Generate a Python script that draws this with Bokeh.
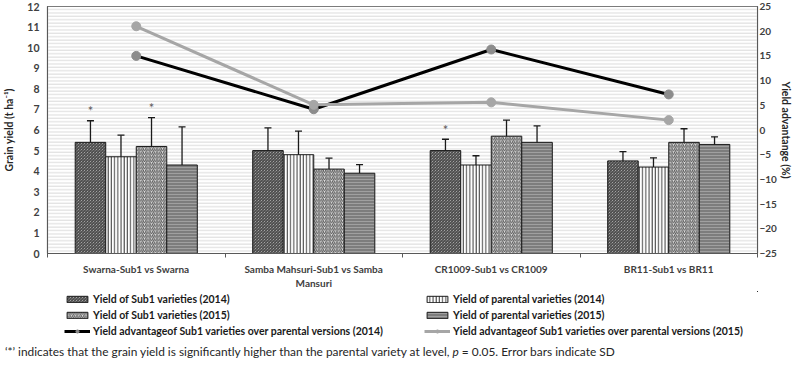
import numpy as np
from bokeh.plotting import figure
from bokeh.layouts import column
from bokeh.models import (Range1d, LinearAxis, FixedTicker, ColumnDataSource, Whisker, TeeHead,
                          Legend, LegendItem, BoxAnnotation, Div)
from bokeh.core.properties import value
from bokeh.embed import file_html
from bokeh.resources import INLINE

categories = ["Swarna-Sub1 vs Swarna", "Samba Mahsuri-Sub1 vs Samba\nMansuri",
              "CR1009-Sub1 vs CR1009", "BR11-Sub1 vs BR11"]
series_names = ["Yield of Sub1 varieties (2014)", "Yield of parental varieties (2014)",
                "Yield of Sub1 varieties (2015)", "Yield of parental varieties (2015)"]
sub1_2014 = [5.4, 5.0, 5.0, 4.5]
sub1_2014_sd = [1.05, 1.1, 0.55, 0.45]
par_2014 = [4.7, 4.8, 4.3, 4.2]
par_2014_sd = [1.05, 1.15, 0.45, 0.45]
sub1_2015 = [5.2, 4.1, 5.7, 5.4]
sub1_2015_sd = [1.4, 0.53, 0.78, 0.66]
par_2015 = [4.3, 3.9, 5.4, 5.3]
par_2015_sd = [1.85, 0.42, 0.8, 0.37]
signif_2014 = [True, False, True, False]
signif_2015 = [True, False, False, False]
adv_2014 = [15.0, 4.2, 16.3, 7.2]
adv_2015 = [21.0, 5.1, 5.6, 2.0]
line_names = ["Yield advantageof Sub1 varieties over parental versions (2014)",
              "Yield advantageof Sub1 varieties over parental versions (2015)"]
left_ticks = list(range(0, 13))
right_ticks = list(range(-25, 30, 5))
footnote_html = ("\u2018*\u2019 indicates that the grain yield is significantly higher than the "
                 "parental variety at level, <i>p</i> = 0.05. Error bars indicate SD")

FONT = "Lato"
TXT = "#404040"

p = figure(width=794, height=291, output_backend="svg", toolbar_location=None,
           x_range=Range1d(0, 4), y_range=Range1d(0, 12),
           min_border_left=43, min_border_right=31, min_border_top=6, min_border_bottom=30)
p.xgrid.visible = False
p.ygrid.visible = False
p.outline_line_color = "#595959"
p.outline_line_width = 1.2

# striped background
p.add_layout(BoxAnnotation(fill_color="white", hatch_pattern="-", hatch_color="#dadada",
                           hatch_scale=3.4, hatch_weight=1, line_color=None, level="underlay"))

centers = np.arange(len(categories)) + 0.5
offsets = [-0.258, -0.086, 0.086, 0.258]
bw = 0.172
styles = [
    dict(fill_color="#e0e0e0", hatch_pattern="\\", hatch_color="#3a3a3a", hatch_scale=3.0, hatch_weight=1.1),
    dict(fill_color="#ffffff", hatch_pattern="|", hatch_color="#3a3a3a", hatch_scale=3.2, hatch_weight=1.0),
    dict(fill_color="#e6e6e6", hatch_pattern="/", hatch_color="#505050", hatch_scale=3.6, hatch_weight=1.0),
    dict(fill_color="#7d7d7d", hatch_pattern="-", hatch_color="#a0a0a0", hatch_scale=3.0, hatch_weight=1.0),
]
vals = [sub1_2014, par_2014, sub1_2015, par_2015]
sds = [sub1_2014_sd, par_2014_sd, sub1_2015_sd, par_2015_sd]
bar_sources = []
for i in range(4):
    x = centers + offsets[i]
    v = np.array(vals[i])
    s = np.array(sds[i])
    src = ColumnDataSource(dict(x=x, top=v, upper=v + s, lower=v - s))
    bar_sources.append(src)
    p.vbar(x="x", top="top", bottom=0, width=bw, source=src, line_color="#1a1a1a",
           line_width=1, **styles[i])
    p.add_layout(Whisker(base="x", upper="upper", lower="lower", source=src,
                         line_color="#1a1a1a", line_width=1.3,
                         upper_head=TeeHead(size=7, line_color="#1a1a1a", line_width=1.3),
                         lower_head=TeeHead(size=7, line_color="#1a1a1a", line_width=1.3)))

# significance asterisks
for i, flags in [(0, signif_2014), (2, signif_2015)]:
    v = np.array(vals[i]) + np.array(sds[i])
    xs = [centers[k] + offsets[i] for k in range(4) if flags[k]]
    ys = [v[k] + 0.08 for k in range(4) if flags[k]]
    p.text(x=xs, y=ys, text=["*"] * len(xs), text_align="center", text_baseline="bottom",
           text_font=value(FONT), text_font_size="13px", text_color="#595959")

# right axis
p.extra_y_ranges = {"adv": Range1d(-25, 25)}
rax = LinearAxis(y_range_name="adv", ticker=FixedTicker(ticks=right_ticks),
                 axis_label="Yield advantange (%)")
p.add_layout(rax, "right")

line_styles = [dict(line_color="#000000", line_width=3), dict(line_color="#a6a6a6", line_width=3)]
mark_styles = [dict(size=9, fill_color="#8c8c8c", line_color="#8c8c8c"),
               dict(size=9, fill_color="#a6a6a6", line_color="#a6a6a6")]
advs = [adv_2014, adv_2015]
for adv, ls, ms in zip(advs, line_styles, mark_styles):
    p.line(centers, adv, y_range_name="adv", **ls)
    p.scatter(centers, adv, y_range_name="adv", **ms)

# axes styling
p.yaxis[0].ticker = FixedTicker(ticks=left_ticks)
p.yaxis[0].axis_label = "Grain yield (t ha\u207b\u00b9)"
p.xaxis.ticker = FixedTicker(ticks=list(centers), minor_ticks=list(range(0, 5)))
p.xaxis.major_label_overrides = {float(c): lab for c, lab in zip(centers, categories)}
p.xaxis.major_tick_line_color = None
p.xaxis.major_tick_out = 0
p.xaxis.minor_tick_in = 0
p.xaxis.minor_tick_out = 4
p.xaxis.minor_tick_line_color = "#595959"
p.xaxis.major_label_standoff = 5
for ax in [p.xaxis[0], p.yaxis[0], rax]:
    ax.major_label_text_font = FONT
    ax.major_label_text_font_style = "bold"
    ax.major_label_text_font_size = "10px"
    ax.major_label_text_color = TXT
    ax.axis_label_text_font = FONT
    ax.axis_label_text_font_style = "bold"
    ax.axis_label_text_font_size = "10.5px"
    ax.axis_label_text_color = "#262626"
    ax.axis_line_color = "#595959"
for ax in [p.yaxis[0], rax]:
    ax.major_label_text_font_size = "10.5px"
    ax.major_tick_line_color = None
    ax.minor_tick_line_color = None
    ax.major_tick_out = 0
    ax.minor_tick_out = 0
    ax.major_tick_in = 0
    ax.minor_tick_in = 0
p.yaxis[0].major_label_standoff = 8
p.yaxis[0].axis_label_standoff = 9
rax.major_label_text_font_size = "10px"
rax.major_label_standoff = 2
rax.axis_label_standoff = 0

# legend strip: swatch renderers reuse the data but sit outside the strip's view
q = figure(width=794, height=48, output_backend="svg", toolbar_location=None,
           x_range=Range1d(-100, -96), y_range=Range1d(-200, -199), x_axis_type=None, y_axis_type=None,
           min_border_left=43, min_border_right=31, min_border_top=0, min_border_bottom=0,
           outline_line_color=None)
q.xgrid.visible = False
q.ygrid.visible = False
sw = [q.vbar(x="x", top="top", bottom=0, width=bw, source=src, line_color="#1a1a1a",
             line_width=1, **st) for src, st in zip(bar_sources, styles)]
lw = [[q.line(centers, adv, **ls), q.scatter(centers, adv, **ms)]
      for adv, ls, ms in zip(advs, line_styles, mark_styles)]

def mk_legend(items, x):
    q.add_layout(Legend(items=items, location=(x, 0), orientation="vertical",
                        label_text_font=FONT, label_text_font_style="bold", label_text_font_size="10.5px",
                        label_text_color="#1a1a1a", glyph_width=26, glyph_height=8, label_height=16,
                        label_standoff=3, spacing=0, padding=0, margin=0, border_line_color=None,
                        background_fill_alpha=0))

mk_legend([LegendItem(label=series_names[0], renderers=[sw[0]]),
           LegendItem(label=series_names[2], renderers=[sw[2]]),
           LegendItem(label=line_names[0], renderers=lw[0])], 17)
mk_legend([LegendItem(label=series_names[1], renderers=[sw[1]]),
           LegendItem(label=series_names[3], renderers=[sw[3]]),
           LegendItem(label=line_names[1], renderers=lw[1])], 377)

note = Div(text=footnote_html, width=789, height=17, margin=(0, 0, 0, 5),
           styles={"font-family": "Lato", "font-size": "11.9px", "color": "#262626",
                   "line-height": "14px", "padding-top": "6px", "white-space": "nowrap"})

layout = column(p, q, note)
open("out.html", "w").write(file_html(layout, INLINE))
